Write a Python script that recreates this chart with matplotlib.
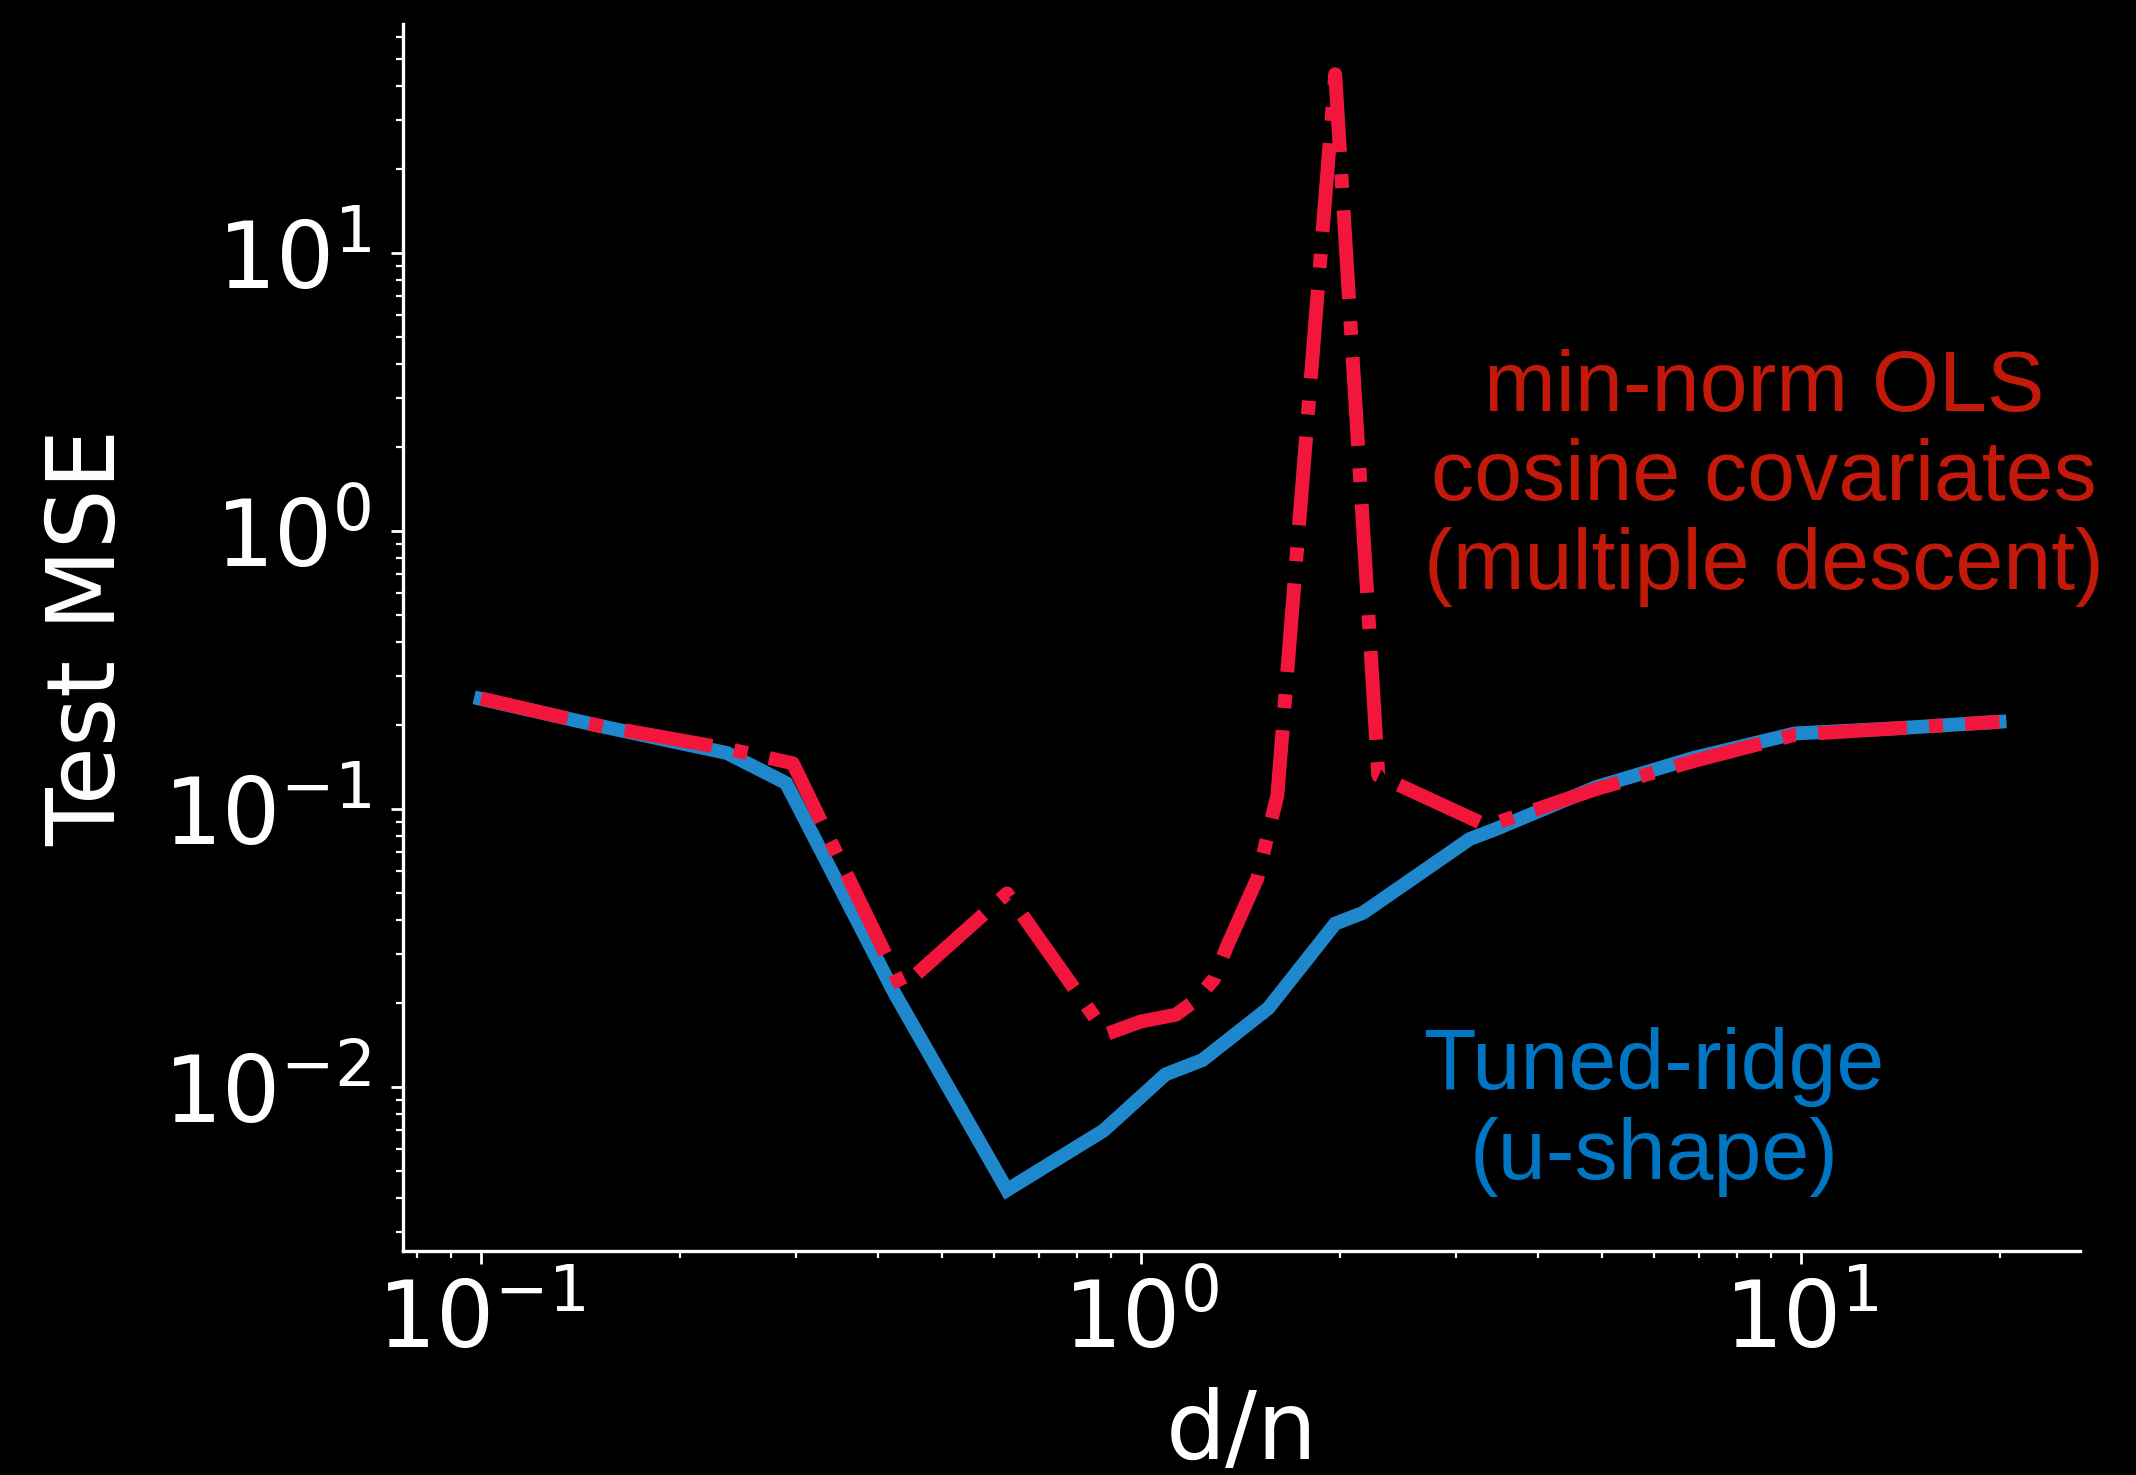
import numpy as np
import matplotlib
matplotlib.use("Agg")
import matplotlib.pyplot as plt

# tuned ridge (u-shape)
ridge_x = [0.1, 0.15, 0.236, 0.29, 0.425, 0.627, 0.878, 1.09, 1.24, 1.56,
           1.97, 2.17, 3.15, 3.45, 4.9, 6.9, 9.8, 13.9, 20.0]
ridge_mse = [0.249, 0.20, 0.159, 0.124, 0.0214, 0.00426, 0.00697, 0.0111, 0.0125, 0.0192,
             0.0387, 0.0423, 0.078, 0.0847, 0.12, 0.153, 0.187, 0.195, 0.206]

# min-norm OLS with cosine covariates (multiple descent)
ols_x = [0.1, 0.15, 0.236, 0.297, 0.434, 0.627, 0.887, 1.0, 1.13, 1.21, 1.29, 1.35,
         1.50, 1.61, 1.97, 2.29, 3.35, 4.9, 6.9, 9.8, 13.9, 20.0]
ols_mse = [0.25, 0.20, 0.165, 0.146, 0.0228, 0.0497, 0.0155, 0.0172, 0.0182, 0.0205, 0.0244, 0.032,
           0.056, 0.112, 44.0, 0.132, 0.087, 0.118, 0.149, 0.185, 0.195, 0.206]

W, H = 2136, 1475
dpi = 200
fig = plt.figure(figsize=(W / dpi, H / dpi), dpi=dpi, facecolor='black')
ax = fig.add_axes([403 / W, 1 - 1251 / H, (2080 - 403) / W, (1251 - 24) / H])
ax.set_facecolor('black')

ax.plot(ridge_x, ridge_mse, color='#1f88cc', lw=5, solid_joinstyle='miter', zorder=2)
ax.plot(ols_x, ols_mse, color='#f2153c', lw=5, ls='-.', zorder=3)

ax.set_xscale('log')
ax.set_yscale('log')
ax.set_xlim(10 ** -1.118, 10 ** 1.423)
ax.set_ylim(10 ** -2.59, 10 ** 1.824)

for s in ['top', 'right']:
    ax.spines[s].set_visible(False)
for s in ['left', 'bottom']:
    ax.spines[s].set_color('white')
    ax.spines[s].set_linewidth(1.2)

ax.tick_params(which='major', colors='white', length=4.5, width=1.0, labelsize=33, pad=5)
ax.tick_params(which='minor', colors='white', length=2.5, width=0.8)
ax.tick_params(axis='y', which='major', pad=7)

ax.set_xlabel('d/n', color='white', fontsize=34, labelpad=7)
ax.set_ylabel('Test MSE', color='white', fontsize=34, labelpad=10)

fig.text(1764 / W, 1 - 478 / H, 'min-norm OLS\ncosine covariates\n(multiple descent)',
         color='#c3190a', fontsize=31, family='Liberation Sans', ha='center', va='center',
         linespacing=1.15)
fig.text(1654 / W, 1 - 1112 / H, 'Tuned-ridge\n(u-shape)',
         color='#0076c2', fontsize=31, family='Liberation Sans', ha='center', va='center',
         linespacing=1.15)

fig.savefig('out.png', dpi=dpi, facecolor='black')
